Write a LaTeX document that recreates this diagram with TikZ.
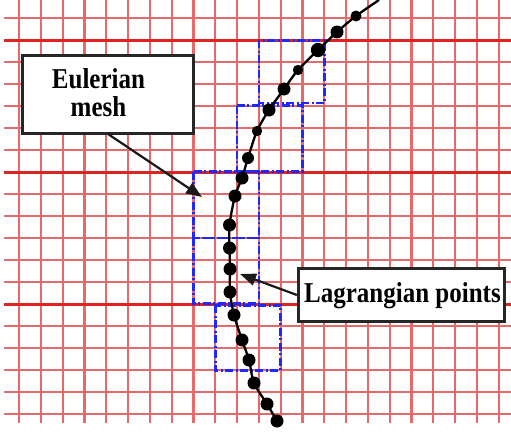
\documentclass[tikz,border=0pt]{standalone}
\usepackage{fontspec}
\usepackage{graphicx}
\setmainfont{Liberation Serif}
\usetikzlibrary{arrows.meta}
\definecolor{gridred}{RGB}{232,105,105}
\definecolor{gridbold}{RGB}{222,35,35}
\definecolor{meshblue}{RGB}{30,40,255}
\tikzset{
  gridline/.style={draw=gridred, line width=2.2pt},
  gridboldline/.style={draw=gridbold, line width=2.6pt},
  cellbox/.style={draw=meshblue, line width=2.6pt, dash pattern=on 8pt off 2.5pt on 2pt off 2.5pt},
  callout/.style={draw=black!85, line width=2.8pt, fill=white, inner sep=0pt},
  labeltext/.style={font=\bfseries\fontsize{25}{30}\selectfont, inner sep=0pt},
  pointer/.style={draw=black!90, line width=2.2pt, -{Triangle[length=16pt,width=12pt]}},
  lagdot/.style={fill=black},
  curveline/.style={draw=black, line width=2.3pt}
}
\begin{document}
\begin{tikzpicture}[x=1pt,y=-1pt]
\useasboundingbox (0,0) rectangle (511,431);
\fill[white] (0,0) rectangle (511,431);
% grid
\foreach \k in {0,...,22} {
  \draw[gridline] ({19+21.8*\k},0) -- ({19+21.8*\k},423);
}
\foreach \k in {0,...,18} {
  \draw[gridline] (4,{18.3+22*\k}) -- (511,{18.3+22*\k});
}
\foreach \k in {1,7,13} {
  \draw[gridboldline] (4,{18.3+22*\k}) -- (511,{18.3+22*\k});
}
% Eulerian cells
\draw[cellbox] (258.8,40.3) rectangle (324.2,103);
\draw[cellbox] (237,105.5) rectangle (302.4,171.5);
\draw[cellbox] (193.4,171.5) rectangle (258.8,237.8);
\draw[cellbox] (193.4,237.8) rectangle (258.8,303.3);
\draw[cellbox] (215.2,305.3) rectangle (280.6,370.3);
% Lagrangian curve
\coordinate (top) at (379,0);
\coordinate (p1) at (356,16);
\coordinate (p2) at (337,32);
\coordinate (p3) at (318,50);
\coordinate (p4) at (298,70);
\coordinate (p5) at (284,89);
\coordinate (p6) at (269,110);
\coordinate (p7) at (257,131);
\coordinate (p8) at (248,158);
\coordinate (p9) at (242,178);
\coordinate (p10) at (235,196);
\coordinate (p11) at (229.5,225);
\coordinate (p12) at (229.5,248);
\coordinate (p13) at (230,269);
\coordinate (p14) at (230,292);
\coordinate (p15) at (234,315);
\coordinate (p16) at (242,340);
\coordinate (p17) at (249,360);
\coordinate (p18) at (254,383);
\coordinate (p19) at (267,404);
\coordinate (p20) at (277,421);
\draw[curveline] plot[smooth, tension=0.5] coordinates {(379,0) (356,16) (337,32) (318,50) (298,70) (284,89) (269,110) (257,131) (248,158) (242,178) (235,196) (229.5,225) (229.5,248) (230,269) (230,292) (234,315) (242,340) (249,360) (254,383) (267,404) (277,421)};
\foreach \p/\r in {p1/5.5,p2/6.5,p3/7.2,p4/5.2,p5/6.5,p6/6.5,p7/5.2,p8/6,p9/6.5,p10/6.5,p11/6.5,p12/6.5,p13/6.5,p14/6.5,p15/6.5,p16/6.5,p17/6.5,p18/6.5,p19/6.5,p20/6.5} {
  \fill[lagdot] (\p) circle (\r);
}
% callouts
\node[callout, minimum width=171pt, minimum height=78pt] (eul) at (108.3,94.8) {};
\node[labeltext, align=center] (eultext) at (98.5,92.5) {\scalebox{1}[1.15]{Eulerian}\\[-2pt]\scalebox{1}[1.15]{mesh}};
\node[callout, minimum width=206pt, minimum height=53pt] (lag) at (401.3,295) {};
\node[labeltext, anchor=base] (lagtext) at (402.5,302.3) {\scalebox{1}[1.15]{Lagrangian points}};
\coordinate (eultip) at (202,197);
\coordinate (lagtip) at (240,274);
\draw[pointer] (108,134) -- (eultip);
\draw[pointer] (lag.west |- 0,295) -- (lagtip);
\end{tikzpicture}
\end{document}
